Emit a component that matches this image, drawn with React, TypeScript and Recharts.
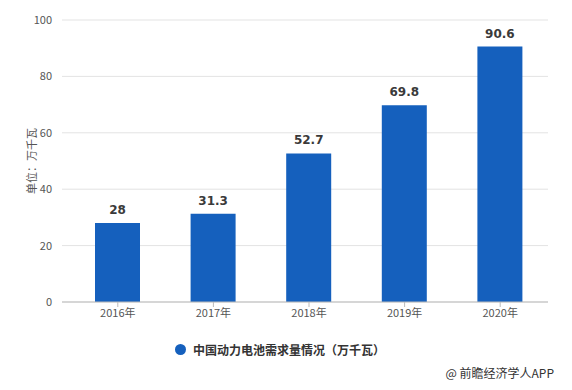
import { BarChart, Bar, XAxis, YAxis, CartesianGrid, LabelList } from 'recharts';

const years = ['2016年', '2017年', '2018年', '2019年', '2020年'];
const demand = [28, 31.3, 52.7, 69.8, 90.6];
const yTicks = [0, 20, 40, 60, 80, 100];

const seriesName = '中国动力电池需求量情况（万千瓦）';
const barColor = '#1560bd';
const cjk = '"Noto Sans CJK SC", "Noto Sans", sans-serif';

const data = years.map((year, i) => ({ year, value: demand[i] }));

export default function App() {
  return (
    <div style={{ position: 'absolute', left: 0, top: 0, width: 572, height: 390, background: '#fff' }}>
      <BarChart
        width={572}
        height={390}
        data={data}
        margin={{ top: 20, right: 24, left: 0, bottom: 58 }}
        barSize={45}
      >
        <CartesianGrid vertical={false} stroke="#e3e3e3" />
        <XAxis
          dataKey="year"
          height={30}
          padding={{ left: 8, right: 0 }}
          stroke="#bbb"
          tickSize={5}
          tick={{ fill: '#555', fontSize: 11, fontFamily: cjk }}
        />
        <YAxis
          width={62}
          domain={[0, 100]}
          ticks={yTicks}
          axisLine={false}
          tickLine={false}
          tickMargin={4}
          tick={{ fill: '#555', fontSize: 11, fontFamily: cjk }}
          label={{
            value: '单位：万千瓦',
            angle: -90,
            position: 'insideLeft',
            offset: 32,
            style: { textAnchor: 'middle', fill: '#555', fontSize: 11, fontFamily: cjk },
          }}
        />
        <Bar dataKey="value" name={seriesName} fill={barColor} isAnimationActive={false}>
          <LabelList
            dataKey="value"
            position="top"
            offset={9}
            style={{ fill: '#3a3a3a', fontSize: 12, fontWeight: 700, fontFamily: '"DejaVu Sans", sans-serif' }}
          />
        </Bar>
      </BarChart>
      <div
        style={{
          position: 'absolute',
          left: 0,
          top: 341,
          width: 560,
          display: 'flex',
          alignItems: 'center',
          justifyContent: 'center',
          fontFamily: cjk,
          fontSize: 12,
          fontWeight: 700,
          color: '#333',
        }}
      >
        <span
          style={{
            display: 'inline-block',
            width: 11,
            height: 11,
            borderRadius: '50%',
            background: barColor,
            marginRight: 7,
          }}
        />
        {seriesName}
      </div>
      <div
        style={{
          position: 'absolute',
          right: 18,
          top: 364,
          fontFamily: cjk,
          fontSize: 12,
          color: '#333',
        }}
      >
        @ 前瞻经济学人APP
      </div>
    </div>
  );
}
